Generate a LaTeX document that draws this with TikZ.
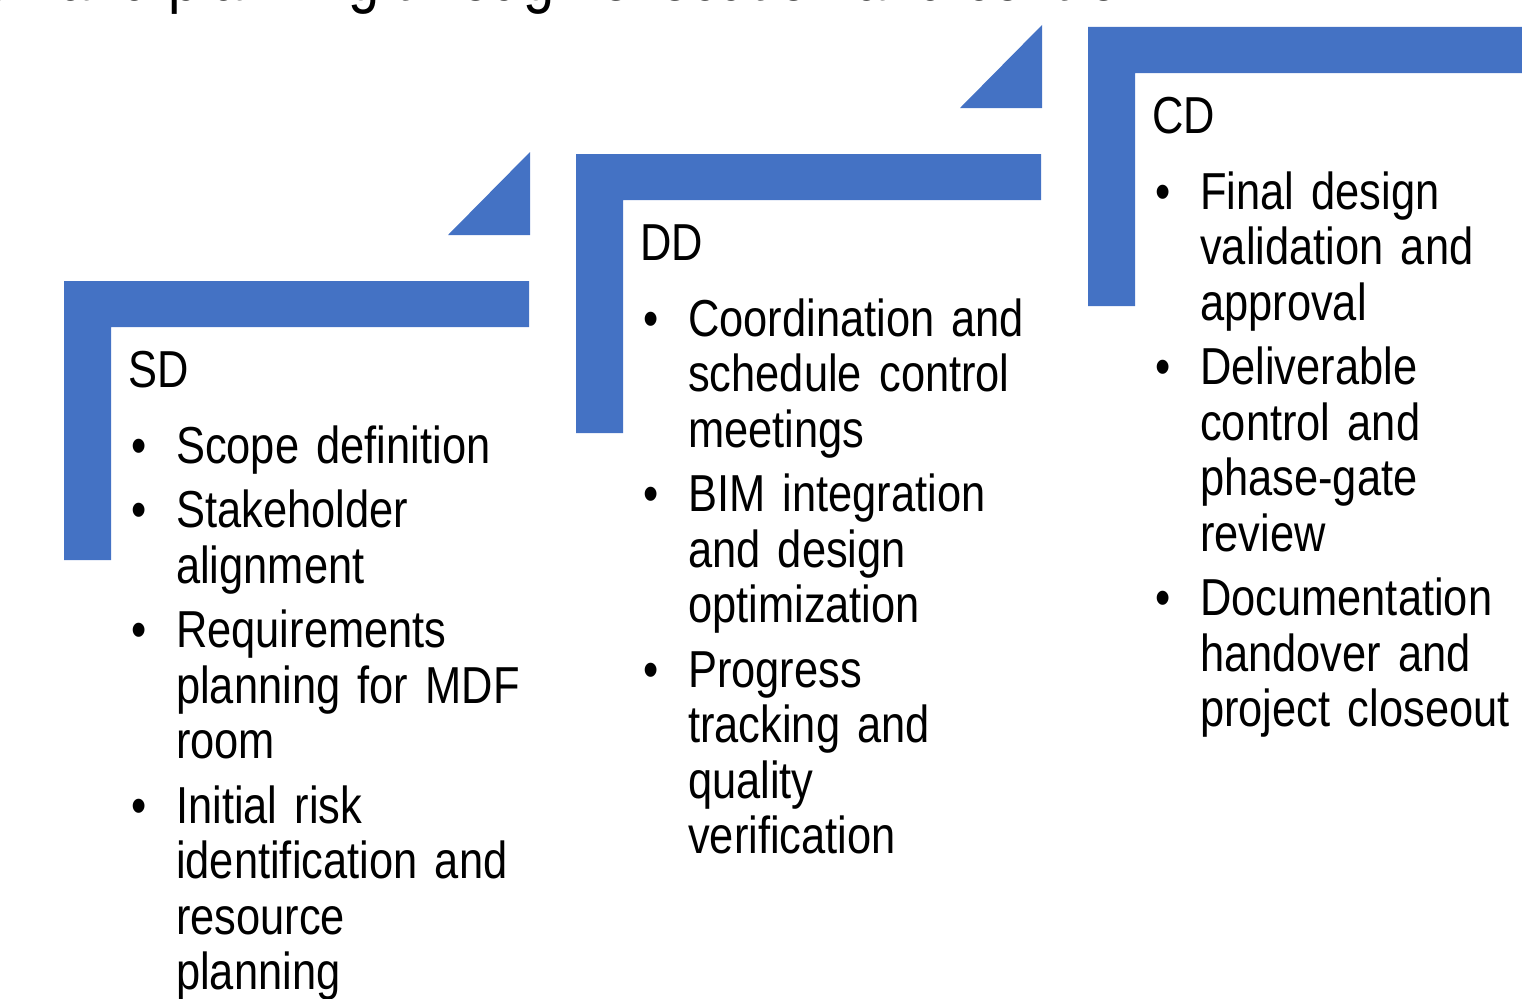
\documentclass[tikz,border=0pt]{standalone}
\usepackage{fontspec}
\setmainfont{Liberation Sans}[FakeStretch=0.835]
\usetikzlibrary{positioning}

\definecolor{phaseblue}{HTML}{4472C4}

% body font with tighter word gaps
\DeclareRobustCommand{\phasefont}{\fontsize{52}{55.5}\selectfont\spaceskip=8.5pt plus 2pt minus 1pt\relax}
% heading gap and bullet with hanging indent
\newcommand{\phasegap}{\par\vspace{11.5pt}}
\newcommand{\pitem}{\par\vspace{9pt}\hangindent=48pt\hangafter=1\noindent\makebox[48pt][l]{\hspace{3pt}\textbullet}}

\tikzset{
	phasebar/.style={fill=phaseblue},
	phasetext/.style={anchor=base west, inner sep=0pt, text width=420pt, align=left, font=\phasefont},
}

\begin{document}
\begin{tikzpicture}[x=1pt, y=-1pt]
	\useasboundingbox (0,0) rectangle (1522,998);
	\clip (0,0) rectangle (1522,998);
	% title, only its lower edge is on the page
	\node[anchor=base east, inner sep=0pt, font=\fontsize{67}{70}\selectfont] (title) at (1133,0.3)
		{initiation and planning through execution and control};
	% three steps, each moved right and up
	\foreach \k in {0,1,2} {
		\begin{scope}[shift={(512*\k,-127*\k)}]
			\fill[phasebar] (64,281) -- (529,281) -- (529,327) -- (111,327) -- (111,560) -- (64,560) -- cycle;
			\fill[phasebar] (448,235) -- (530,235) -- (530,152) -- cycle;
		\end{scope}
	}
	% texts
	\node[phasetext] (sd) at (128,387) {SD\phasegap
		\pitem Scope definition
		\pitem Stakeholder\newline alignment
		\pitem Requirements\newline planning for MDF\newline room
		\pitem Initial risk\newline identification and\newline resource\newline planning\par};
	\node[phasetext] (dd) at (640,260) {DD\phasegap
		\pitem Coordination and\newline schedule control\newline meetings
		\pitem BIM integration\newline and design\newline optimization
		\pitem Progress\newline tracking and\newline quality\newline verification\par};
	\node[phasetext] (cd) at (1152,133) {CD\phasegap
		\pitem Final design\newline validation and\newline approval
		\pitem Deliverable\newline control and\newline phase-gate\newline review
		\pitem Documentation\newline handover and\newline project closeout\par};
\end{tikzpicture}
\end{document}
